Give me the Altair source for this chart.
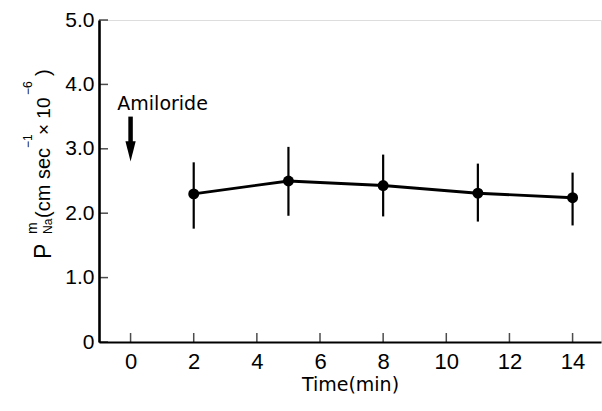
import altair as alt
import pandas as pd

time_min = [2, 5, 8, 11, 14]
p_mean = [2.30, 2.50, 2.43, 2.31, 2.24]
p_upper = [2.79, 3.03, 2.91, 2.77, 2.63]
p_lower = [1.76, 1.96, 1.95, 1.87, 1.81]

x_ticks = [0, 2, 4, 6, 8, 10, 12, 14]
y_ticks = [0, 1, 2, 3, 4, 5]

arrow_x = [0]
arrow_top = [3.50]
arrow_shaft_end = [3.00]
arrow_head = [2.96]
label_text = ["Amiloride"]
label_y = [3.70]
label_x = [-0.42]

# y-axis title pieces (rotated), with font size, start position along the axis
# (page y, text runs upward) and baseline (page x)
title_parts = ["P", "m", "Na", "(cm sec", "\u22121", "\u00d7 10", "\u22126", ")"]
title_sizes = [23, 14, 12, 20, 12, 19, 12, 20]
title_start = [259, 234, 234, 218, 148, 135, 95, 76]
title_base = [51, 37, 52, 50, 32, 50, 32, 50]

FONT_NUM = "'Liberation Sans Narrow', 'Liberation Sans', sans-serif"
FONT_TXT = "DejaVu Sans"
FONT_TTL = "Liberation Sans"

LEFT, TOP = 99, 20
W, H = 502, 322

df = pd.DataFrame({"t": time_min, "m": p_mean, "hi": p_upper, "lo": p_lower})
arrow_df = pd.DataFrame({"x": arrow_x, "top": arrow_top, "end": arrow_shaft_end,
                         "head": arrow_head})
lab_df = pd.DataFrame({"x": label_x, "y": label_y, "text": label_text})
xt_df = pd.DataFrame({"v": x_ticks})
yt_df = pd.DataFrame({"v": y_ticks})
one = pd.DataFrame({"a": [0]})

xscale = alt.Scale(domain=[-1, 14.9], nice=False, zero=False)
yscale = alt.Scale(domain=[0, 5], nice=False)

xaxis = alt.Axis(values=x_ticks, grid=False, ticks=False, tickSize=0, domain=True,
                 domainColor="black", domainWidth=2.2, labelFont=FONT_NUM,
                 labelFontSize=22, labelColor="black", labelPadding=9,
                 title="Time(min)", titleFont=FONT_TXT, titleFontSize=19,
                 titleFontWeight="normal", titleColor="black", titlePadding=3)
yaxis = alt.Axis(values=y_ticks, grid=False, ticks=False, tickSize=0, domain=True,
                 domainColor="black", domainWidth=2.6, labelFont=FONT_NUM,
                 labelFontSize=21, labelColor="black", labelPadding=5,
                 labelExpr="datum.value == 0 ? '0' : format(datum.value, '.1f')",
                 title="")

base = alt.Chart(df)

line = base.mark_line(color="black", strokeWidth=2.8).encode(
    x=alt.X("t:Q", scale=xscale, axis=xaxis),
    y=alt.Y("m:Q", scale=yscale, axis=yaxis),
)
err = base.mark_rule(color="black", strokeWidth=2.2).encode(
    x=alt.X("t:Q", scale=xscale), y=alt.Y("lo:Q", scale=yscale), y2="hi:Q"
)
pts = base.mark_circle(color="black", opacity=1, size=120).encode(
    x=alt.X("t:Q", scale=xscale), y=alt.Y("m:Q", scale=yscale)
)

xticks = alt.Chart(xt_df).mark_tick(color="black", thickness=1.5, size=9,
                                    orient="vertical").encode(
    x=alt.X("v:Q", scale=xscale), y=alt.value(H - 4.5)
)
yticks = alt.Chart(yt_df).mark_tick(color="black", thickness=1.5, size=9,
                                    orient="horizontal").encode(
    y=alt.Y("v:Q", scale=yscale), x=alt.value(4.5)
)

shaft = alt.Chart(arrow_df).mark_rule(color="black", strokeWidth=4.5).encode(
    x=alt.X("x:Q", scale=xscale), y=alt.Y("top:Q", scale=yscale), y2="end:Q"
)
head = alt.Chart(arrow_df).mark_point(
    shape="M-0.5,-1L0.5,-1L0,1Z", filled=True, color="black", opacity=1, size=420
).encode(x=alt.X("x:Q", scale=xscale), y=alt.Y("head:Q", scale=yscale))

label = alt.Chart(lab_df).mark_text(font=FONT_TXT, fontSize=19, align="left",
                                    baseline="middle", color="black").encode(
    x=alt.X("x:Q", scale=xscale), y=alt.Y("y:Q", scale=yscale), text="text:N"
)

title_layers = []
for txt, fs, st, bs in zip(title_parts, title_sizes, title_start, title_base):
    title_layers.append(
        alt.Chart(one).mark_text(text=txt, font=FONT_TTL, fontSize=fs, angle=270,
                                 align="left", baseline="alphabetic",
                                 color="black").encode(
            x=alt.value(bs - LEFT), y=alt.value(st - TOP)
        )
    )

chart = alt.layer(line, err, pts, xticks, yticks, shaft, head, label,
                  *title_layers).properties(
    width=W, height=H,
    autosize=alt.AutoSizeParams(type="none"),
    padding={"left": LEFT, "top": TOP, "right": 1, "bottom": 69},
).configure_view(stroke=None).configure(background="white")

chart.save("out.html", embed_options={"renderer": "svg", "actions": False})
